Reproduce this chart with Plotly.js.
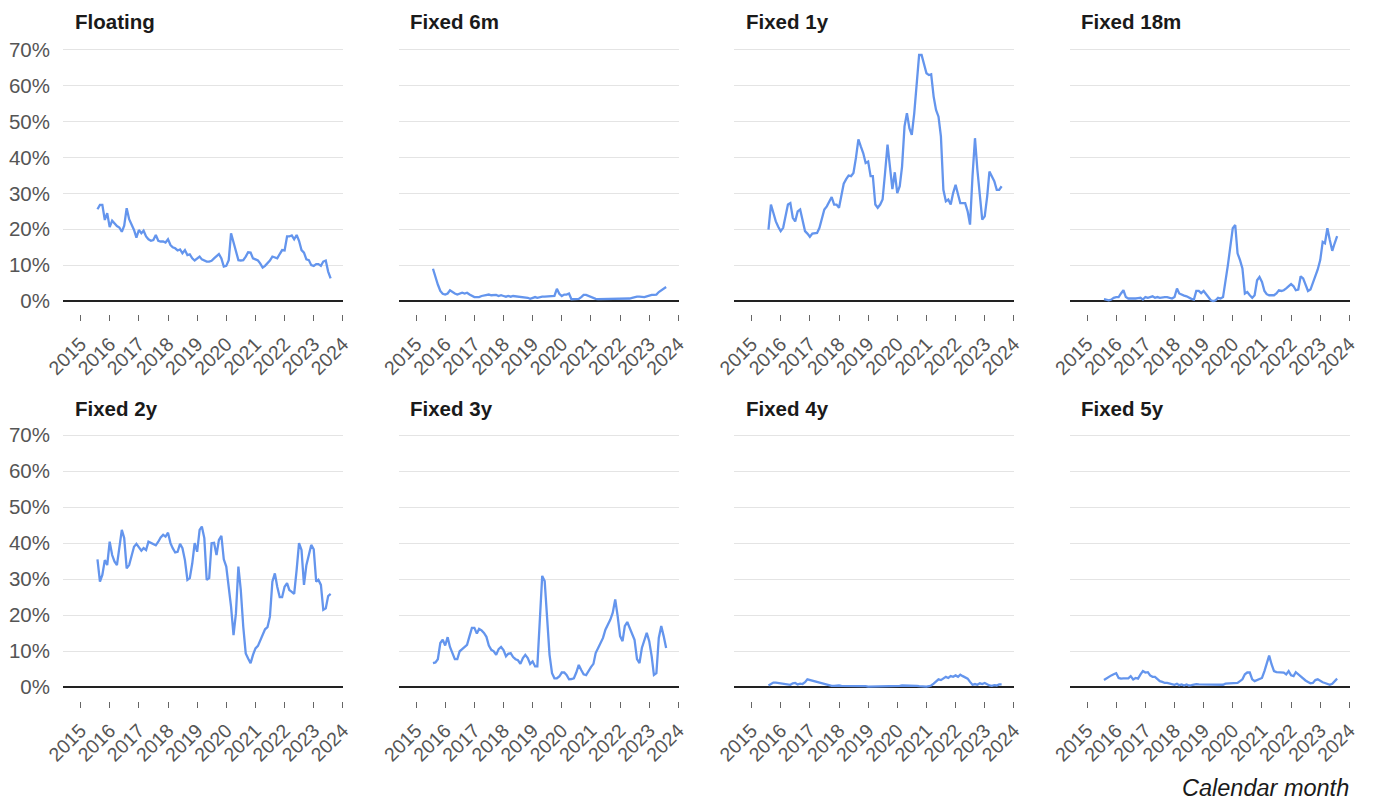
<!DOCTYPE html>
<html>
<head>
<meta charset="utf-8">
<script src="https://cdn.plot.ly/plotly-3.0.1.min.js"></script>
<style>
  html, body { margin: 0; padding: 0; background: #ffffff; }
  #chart { width: 1375px; height: 801px; }
</style>
</head>
<body>
<div id="chart"></div>
<script>
// Share of new lending by rate type (%), monthly from Aug 2015
const panelTitles = ['Floating', 'Fixed 6m', 'Fixed 1y', 'Fixed 18m',
                     'Fixed 2y', 'Fixed 3y', 'Fixed 4y', 'Fixed 5y'];

const floating = [25.6,26.8,26.8,22.6,24.5,20.6,22.4,21.7,20.9,20.5,
  19.3,21,25.9,22.8,21.4,19.8,17.7,19.8,18.9,19.6,
  18,17.2,16.8,17,18.4,16.8,16.6,16.6,16.3,17.2,
  15.6,15,14.7,14.1,14.4,13.3,14.2,12.8,13,11.9,
  11.3,11.9,12.4,11.6,11.3,11,11,11.2,11.9,12.6,
  13.1,11.9,9.6,9.8,11.4,18.9,16.1,13.5,11.4,11.3,
  11.4,12.4,13.6,13.5,11.9,11.6,11.3,10.5,9.3,9.8,
  10.5,11.3,12.4,12.1,11.9,13.1,14.2,14.1,18,18,
  18.3,17.2,18.4,16.8,14.2,13.5,11.6,11.4,10,9.8,
  10.3,10.3,9.8,11,11.3,8.2,6.3];

const fixed6m = [9.0,6.4,4.6,2.8,2.0,1.8,2.1,3.0,2.5,2.1,
  1.8,2.0,2.3,2.1,2.3,1.8,1.4,1.1,1.1,1.1,
  1.4,1.6,1.8,1.8,1.6,1.6,1.7,1.4,1.6,1.4,
  1.2,1.4,1.2,1.4,1.3,1.2,1.2,1.1,1.1,0.9,
  0.6,0.9,1.1,0.9,1.1,1.2,1.2,1.2,1.2,1.2,
  1.4,3.4,2.0,1.4,1.8,1.8,2.1,0.5,0.5,0.5,
  0.6,1.1,1.7,1.7,1.4,1.1,0.7,0.6,0.5,0.5,
  0.6,0.6,0.5,0.6,0.5,0.6,0.5,0.6,0.6,0.5,
  0.5,0.7,0.9,1.1,1.2,1.2,1.1,1.1,1.3,1.6,
  1.7,1.7,1.8,2.5,2.9,3.4,3.9];

const fixed1y = [19.9,26.9,24.6,22.2,20.7,19.5,20.4,23.6,26.9,27.3,
  23.2,22.2,25,25.5,22.2,19.5,18.8,17.9,18.8,18.8,
  19,20.4,22.7,25.5,26.4,27.8,29,26.9,26.9,26,
  29.7,32.7,34,35,34.8,35.7,39.9,45.1,43.1,41.2,
  38.5,38.9,34.8,34.8,26.9,26,26.9,28.3,35.7,43.6,
  37.5,31.2,35.9,30.1,32,37.5,48.7,52.4,48.2,46.3,
  52.4,60.7,68.6,68.6,66.3,63.5,63,63.2,57,53.3,
  51.4,45.9,31,27.8,28.3,26.9,30.1,32.4,29.7,27.3,
  27.3,27.3,25,21.3,34.8,45.4,36.6,28.3,22.7,23.6,
  29.2,36.1,34.8,33.4,31,31,32];

const fixed18m = [0.5,0.4,0.2,0.4,0.9,1.1,1.1,2.1,3.0,1.1,
  0.7,0.7,0.6,0.7,0.8,0.9,0.4,1.1,0.9,1.1,
  1.3,0.9,1.1,0.9,1.1,1.1,1.1,0.9,0.7,1.1,
  3.5,2.1,1.7,1.5,1.3,0.9,0.6,0.4,2.8,2.8,
  2.2,2.8,1.8,0.9,0.2,0,0.2,0.9,0.7,1.1,
  4.9,10,15.1,20.3,21.2,13.3,11.4,9.1,2.1,2.5,
  1.6,0.9,1.6,5.8,6.7,5.3,2.8,1.9,1.6,1.6,
  1.6,2.1,3.0,2.8,3.0,3.5,4.1,4.7,4.1,3.0,
  3.2,6.9,6.3,4.4,2.8,3.2,4.9,6.9,8.8,11.4,
  16.5,16.1,20.3,17,14,16.1,18.1];

const fixed2y = [35.5,29.3,31.2,35.3,33.9,40.4,36.7,34.9,33.9,39,
  43.7,41.4,33,33.9,36.7,39,39.8,39,37.9,38.6,
  38.1,40.4,40.1,39.8,39.4,40.4,41.6,42.3,41.8,42.9,
  40,38.6,37.4,37.6,39.8,38.6,35.3,29.8,30.3,34.4,
  40,37.6,43.7,44.6,41.4,29.8,30.3,40,40.1,36.7,
  40.9,42,35.5,33.5,27.9,22.4,14.5,20.5,33.5,27,
  16.8,9.4,8,6.7,9,10.8,11.5,13.1,14.5,16.1,
  16.7,19.6,29.3,31.6,27.9,25,25,27.9,28.9,27,
  26.5,25.9,32.6,40,38.1,28.4,33.9,37.2,39.5,38.3,
  29.3,29.8,28.4,21.5,21.9,25.3,25.9];

const fixed3y = [6.7,6.9,7.8,12.3,13.2,11.6,13.9,11.2,9.5,7.8,
  7.8,10,10.6,11.2,11.8,14.2,16.5,16.5,14.9,16.2,
  15.8,15.1,14,11.6,10.4,10,9,10.6,11.2,10.3,
  8.6,9.3,9.5,8.4,7.8,7.5,6.5,8.1,9,8.1,
  6.5,7.2,5.8,5.8,17,30.9,29.5,18.8,9,3.9,
  2.5,2.5,3,4.1,4.1,3.4,2.2,2.3,2.5,4.1,
  6.2,4.8,3.6,3.4,4.7,5.6,6.5,9.5,10.9,12.1,
  13.7,16,17.4,18.8,20.7,24.4,19.8,14.2,12.8,17,
  18.1,16.5,14.9,13.2,7.8,6.7,10.9,13.2,15.1,12.8,
  8.6,3.4,3.9,13.7,17,14.2,10.9];

const fixed4y = [0.5,1.0,1.3,1.3,1.2,1.2,1.0,1.0,0.8,0.7,
  1.1,1.2,0.8,1.0,0.9,1.4,2.2,2.0,1.8,1.7,
  1.5,1.3,1.1,0.9,0.8,0.6,0.4,0.4,0.5,0.5,
  0.4,0.4,0.5,0.4,0.4,0.5,0.4,0.3,0.3,0.4,
  0.3,0.2,0.2,0.2,0.2,0.2,0.2,0.2,0.2,0.2,
  0.2,0.2,0.3,0.4,0.4,0.5,0.5,0.5,0.6,0.5,
  0.5,0.4,0.3,0.2,0.2,0.2,0.3,0.5,1.0,1.7,
  2.2,2.0,2.5,2.9,2.6,3.1,2.9,3.3,2.9,3.5,
  3.1,2.8,2.4,1.5,0.7,0.9,0.7,1.1,0.9,1.2,
  0.7,0.5,0.4,0.6,0.5,0.8,0.8];

const fixed5y = [2.0,2.5,2.9,3.3,3.6,3.9,2.6,2.4,2.5,2.5,
  2.5,3.1,2.2,2.6,2.4,3.6,4.5,4.1,4.2,3.3,
  2.9,2.9,2.4,1.7,1.5,1.2,1.2,1.1,0.9,0.7,
  1.0,0.6,0.8,0.5,0.8,0.5,0.6,0.8,0.9,0.8,
  0.8,0.8,0.8,0.8,0.8,0.8,0.8,0.7,0.6,0.7,
  1.0,1.0,1.1,1.0,1.0,1.2,1.7,2.2,3.6,4.1,
  4.1,2.2,1.7,2.0,2.4,2.6,4.5,6.4,8.8,6.4,
  4.5,4.2,4.2,4.3,4.1,3.6,4.5,3.3,3.1,4.2,
  3.6,2.9,2.4,1.9,1.5,1.1,1.2,2.0,2.2,1.7,
  1.4,1.2,0.9,0.7,1.0,1.7,2.4];

const seriesList = [floating, fixed6m, fixed1y, fixed18m,
                    fixed2y, fixed3y, fixed4y, fixed5y];

const yTickVals = [0, 10, 20, 30, 40, 50, 60, 70];
const yTickText = ['0%', '10%', '20%', '30%', '40%', '50%', '60%', '70%'];
const xAxisLabel = 'Calendar month';

// Month-start dates for the observations (first one is Aug 2015)
const months = [];
for (let i = 0; i < floating.length; i++) {
  const d = new Date(Date.UTC(2015, 7 + i, 1));
  months.push(d.toISOString().slice(0, 10));
}

// Panel geometry (pixels, converted to paper fractions below)
const W = 1375, H = 801;
const colPx = [[63, 343], [398.5, 678.5], [734, 1014], [1069.5, 1349.5]];
const rowPx = [[48.2, 302.8], [433.2, 689.1]];     // top, bottom
const axisPx = [314, 700.5];                        // where tick marks start
const titlePx = [21.5, 408];

const FONT = 'Liberation Sans, Arial, Helvetica, sans-serif';
const LINE = '#6495ed';

const traces = [];
const layout = {
  width: W, height: H,
  margin: {l: 0, r: 0, t: 0, b: 0},
  paper_bgcolor: '#ffffff',
  plot_bgcolor: '#ffffff',
  showlegend: false,
  font: {family: FONT, color: '#555555', size: 20},
  annotations: []
};

seriesList.forEach((vals, i) => {
  const col = i % 4, row = Math.floor(i / 4);
  const n = i === 0 ? '' : String(i + 1);
  traces.push({
    type: 'scatter', mode: 'lines',
    x: months, y: vals,
    xaxis: 'x' + n, yaxis: 'y' + n,
    line: {color: LINE, width: 2.3},
    hovertemplate: '%{x|%b %Y}: %{y:.1f}%<extra>' + panelTitles[i] + '</extra>'
  });

  layout['xaxis' + n] = {
    domain: [colPx[col][0] / W, colPx[col][1] / W],
    anchor: 'free',
    position: (H - axisPx[row]) / H,
    type: 'date',
    range: ['2014-05-26', '2024-01-03'],
    tick0: '2015-01-01', dtick: 'M12', tickformat: '%Y',
    tickangle: -45,
    ticks: 'outside', ticklen: 6, tickwidth: 1, tickcolor: '#666666',
    ticklabelstandoff: 4,
    showgrid: false, zeroline: false, showline: false,
    tickfont: {family: FONT, size: 19.5, color: '#555555'},
    fixedrange: true
  };

  layout['yaxis' + n] = {
    domain: [(H - rowPx[row][1]) / H, (H - rowPx[row][0]) / H],
    anchor: 'x' + n,
    range: [-0.5, 70.5],
    tickvals: yTickVals, ticktext: yTickText,
    showticklabels: col === 0,
    ticks: '', ticklabelstandoff: 12,
    showgrid: true, gridcolor: '#e4e4e4', gridwidth: 1,
    zeroline: true, zerolinecolor: '#222222', zerolinewidth: 1.6,
    showline: false,
    tickfont: {family: FONT, size: 20.5, color: '#555555'},
    fixedrange: true
  };

  layout.annotations.push({
    xref: 'paper', yref: 'paper',
    x: (colPx[col][0] + 9.5) / W, y: (H - titlePx[row]) / H,
    xanchor: 'left', yanchor: 'middle',
    text: '<b>' + panelTitles[i] + '</b>',
    showarrow: false,
    font: {family: FONT, size: 20.5, color: '#1a1a1a'}
  });
});

layout.annotations.push({
  xref: 'paper', yref: 'paper',
  x: 1351 / W, y: (H - 788) / H,
  xanchor: 'right', yanchor: 'middle',
  text: '<i>' + xAxisLabel + '</i>',
  showarrow: false,
  font: {family: FONT, size: 23.5, color: '#1a1a1a'}
});

Plotly.newPlot('chart', traces, layout, {displayModeBar: false});
</script>
</body>
</html>
